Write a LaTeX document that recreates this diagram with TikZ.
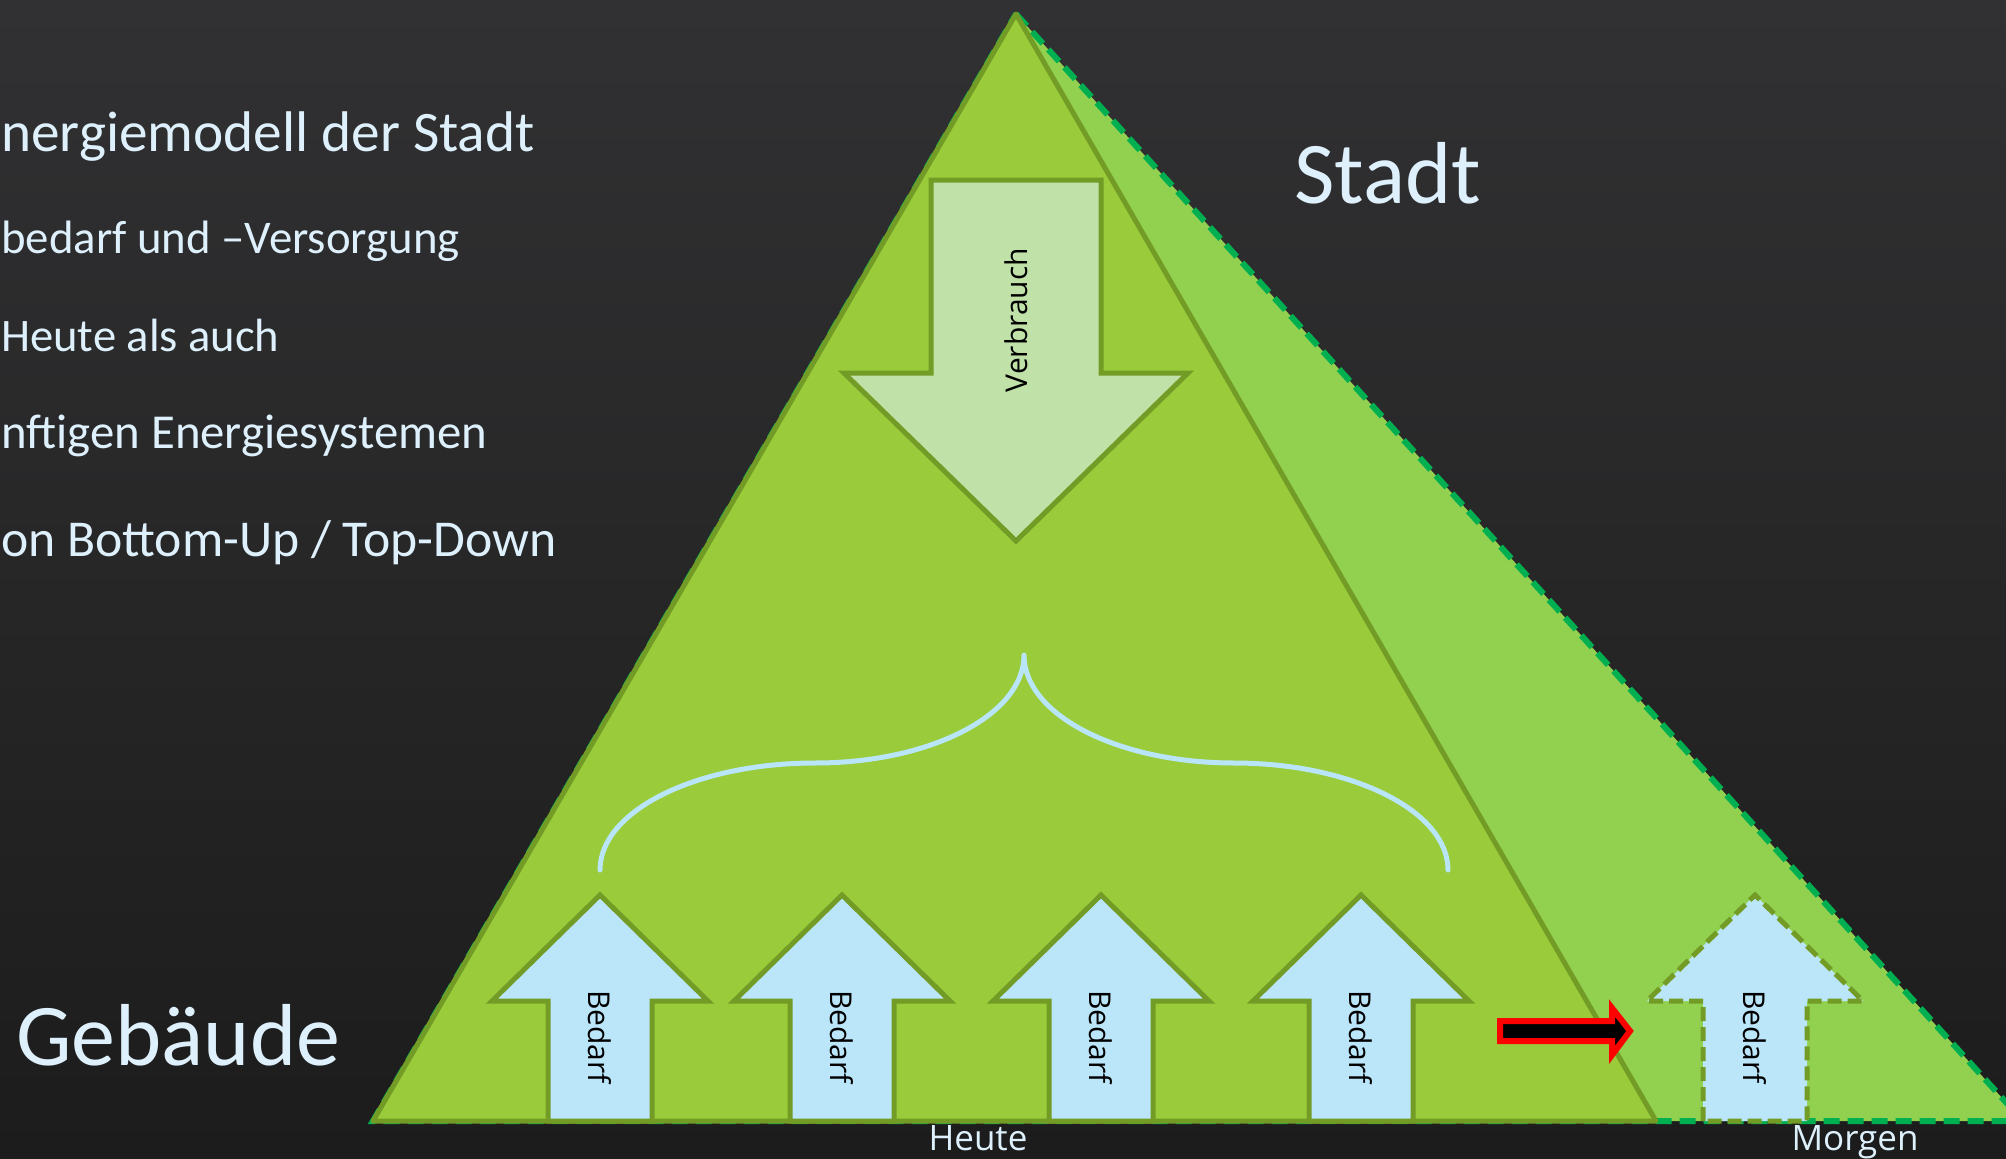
\documentclass[tikz,border=0pt]{standalone}
\usepackage{fontspec}
\setmainfont{Carlito}
\newfontfamily\osans{Open Sans}
\definecolor{bgtop}{HTML}{313133}
\definecolor{bgbot}{HTML}{1C1C1C}
\definecolor{txtcol}{HTML}{DDF0FB}
\definecolor{maingreen}{HTML}{9ACB3A}
\definecolor{olivecol}{HTML}{739C26}
\definecolor{lightgreen}{HTML}{92D050}
\definecolor{dashgreen}{HTML}{00B050}
\definecolor{verbfill}{HTML}{C0E2A8}
\definecolor{bedfill}{HTML}{BBE6FA}
\definecolor{bracecol}{HTML}{B9E5F8}
\begin{document}
\begin{tikzpicture}[x=1pt,y=-1pt,
  lefttext/.style={text=txtcol, inner sep=0pt, anchor=base west},
  bigtext/.style={text=txtcol, inner sep=0pt, anchor=base west, font=\fontsize{88}{100}\selectfont},
  axistext/.style={text=txtcol, inner sep=0pt, anchor=base, font=\osans\fontsize{35}{42}\selectfont},
  arrtext/.style={text=black, inner sep=0pt, font=\osans\fontsize{30}{36}\selectfont},
  bedarfbox/.style={fill=bedfill, draw=olivecol, line width=5pt},
  bedarfdash/.style={fill=bedfill, draw=olivecol, line width=5pt, dash pattern=on 14pt off 6pt},
  verbbox/.style={fill=verbfill, draw=olivecol, line width=5pt},
  bracestyle/.style={draw=bracecol, line width=5pt, line cap=round, line join=round},
  redarrow/.style={fill=black, draw=red, line width=6pt}
]
\useasboundingbox (0,0) rectangle (2006,1159);
\clip (0,0) rectangle (2006,1159);
\shade[top color=bgtop, bottom color=bgbot] (0,0) rectangle (2006,1159);

% coordinates of the triangles
\coordinate (apex) at (1016,14);
\coordinate (bl) at (373,1121);
\coordinate (br) at (1656,1121);
\coordinate (lr) at (2023,1121);

% future (light) triangle
\filldraw[fill=lightgreen, draw=dashgreen, line width=6pt, dash pattern=on 16pt off 8pt]
  (apex) -- (lr) -- (bl) -- cycle;
% present (main) triangle
\filldraw[fill=maingreen, draw=olivecol, line width=5pt, line join=round]
  (apex) -- (br) -- (bl) -- cycle;

% Verbrauch arrow
\filldraw[verbbox] (931,180) -- (1101,180) -- (1101,373) -- (1188,373) -- (1016,541)
  -- (844,373) -- (931,373) -- cycle;
\node[arrtext, rotate=90] (verbrauch) at (1016,320) {Verbrauch};

% brace
\draw[bracestyle] (600,870) .. controls (600,811) and (696,763) .. (815,763)
  .. controls (930,763) and (1024,715) .. (1024,655)
  .. controls (1024,715) and (1118,763) .. (1234,763)
  .. controls (1352,763) and (1448,811) .. (1448,870);

% Bedarf arrows
\foreach \cx/\nm in {600/bedA,842/bedB,1101/bedC,1361/bedD}{
  \filldraw[bedarfbox, shift={(\cx,0)}] (-52,1121) -- (-52,1001) -- (-108,1001) -- (0,895)
    -- (108,1001) -- (52,1001) -- (52,1121) -- cycle;
  \node[arrtext, rotate=-90] (\nm) at (\cx,1037) {Bedarf};
}
\filldraw[bedarfdash, shift={(1755,0)}] (-52,1121) -- (-52,1001) -- (-108,1001) -- (0,895)
    -- (108,1001) -- (52,1001) -- (52,1121) -- cycle;
\node[arrtext, rotate=-90] (bedE) at (1755,1037) {Bedarf};

% red arrow
\filldraw[redarrow] (1500,1021) -- (1612,1021) -- (1612,1008) -- (1630,1031)
  -- (1612,1055) -- (1612,1041) -- (1500,1041) -- cycle;

% texts
\node[lefttext, font=\fontsize{57.3}{68}\selectfont] (l1) at (1,151) {nergiemodell der Stadt};
\node[lefttext, font=\fontsize{46.8}{56}\selectfont] (l2) at (1,253) {bedarf und –Versorgung};
\node[lefttext, font=\fontsize{46.6}{56}\selectfont] (l3) at (1,351) {Heute als auch};
\node[lefttext, font=\fontsize{48.8}{59}\selectfont] (l4) at (1,448) {nftigen Energiesystemen};
\node[lefttext, font=\fontsize{51.7}{62}\selectfont] (l5) at (1,556) {on Bottom-Up / Top-Down};

\node[bigtext] (stadt) at (1294,203) {Stadt};
\node[bigtext] (gebaeude) at (16,1065) {Gebäude};

\node[axistext] (heute) at (978,1150) {Heute};
\node[axistext] (morgen) at (1855,1150) {Morgen};
\end{tikzpicture}
\end{document}
